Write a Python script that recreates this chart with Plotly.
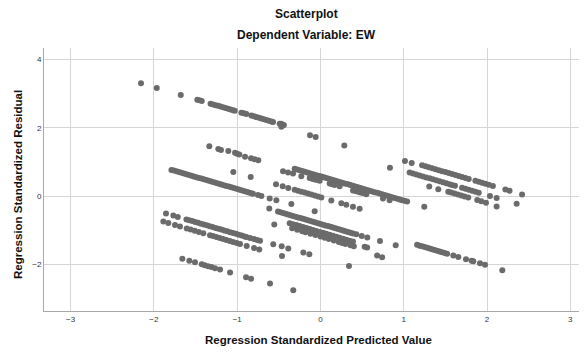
import plotly.graph_objects as go

# ---- data (ZPRED, ZRESID) grouped by visible bands ----
band_a_x = [-2.155, -1.966, -1.678, -1.479, -1.453, -1.426, -1.32, -1.29, -1.26, -1.23, -1.20, -1.17, -1.14, -1.11,
            -1.08, -1.05, -1.03, -0.95, -0.92, -0.89, -0.83, -0.80, -0.77, -0.74, -0.71, -0.68, -0.65, -0.62, -0.59,
            -0.57, -0.49, -0.47, -0.47, -0.44, -0.126, -0.058, 0.286, 1.014, 1.095, 1.22, 1.26, 1.30, 1.34, 1.38,
            1.42, 1.46, 1.50, 1.54, 1.58, 1.62, 1.66, 1.70, 1.74, 1.78, 1.86, 1.90, 1.94, 1.98, 2.02, 2.07, 2.22,
            2.27, 2.42]
band_a_y = [3.30, 3.16, 2.96, 2.82, 2.80, 2.78, 2.70, 2.68, 2.66, 2.64, 2.62, 2.60, 2.575, 2.554,
            2.533, 2.511, 2.497, 2.44, 2.42, 2.40, 2.355, 2.334, 2.313, 2.292, 2.270, 2.249, 2.228, 2.207, 2.185,
            2.171, 2.114, 2.12, 2.03, 2.079, 1.78, 1.73, 1.48, 1.03, 0.97, 0.902, 0.874, 0.845, 0.817, 0.789,
            0.760, 0.732, 0.704, 0.675, 0.647, 0.618, 0.590, 0.562, 0.533, 0.505, 0.448, 0.420, 0.391, 0.363, 0.335,
            0.299, 0.193, 0.158, 0.051]

band_b_x = [-1.335, -1.227, -1.195, -1.107, -1.026, -1.002, -0.975, -0.906, -0.834, -0.792, -0.747,
            -0.31, -0.28, -0.25, -0.22, -0.19, -0.16, -0.13, -0.10, -0.07, -0.04, -0.01, 0.02, 0.05, 0.08, 0.11,
            0.14, 0.17, 0.20, 0.23, 0.26, 0.29, 0.32, 0.35, 0.38, 0.41, 0.44, 0.47, 0.50, 0.53, 0.56, 0.59, 0.62,
            0.65, 0.68, 0.71, 0.74, 0.77, 0.80, 0.83, 0.86, 0.89, 0.92, 0.95, 0.98, 1.01, 1.04, 1.246]
band_b_y = [1.46, 1.38, 1.35, 1.32, 1.27, 1.24, 1.22, 1.15, 1.11, 1.08, 1.05,
            0.800, 0.779, 0.757, 0.736, 0.715, 0.693, 0.672, 0.651, 0.630, 0.608, 0.587, 0.566, 0.545, 0.523, 0.502,
            0.481, 0.459, 0.438, 0.417, 0.396, 0.374, 0.353, 0.332, 0.311, 0.289, 0.268, 0.247, 0.226, 0.204, 0.183,
            0.162, 0.140, 0.119, 0.098, 0.077, 0.055, 0.034, 0.013, -0.008, -0.030, -0.051, -0.072, -0.094, -0.115,
            -0.136, -0.157, -0.31]

band_b2_x = [-0.45, -0.39, -0.33, -0.23, -0.13, -0.10, -0.07, -0.04, -0.01, 0.11, 0.14, 0.17, 0.23, 0.39, 0.42,
             0.45, 0.48, 0.51, 0.55, 0.75, 0.83]
band_b2_y = [0.73, 0.69, 0.66, 0.58, 0.53, 0.51, 0.49, 0.47, 0.45, 0.37, 0.35, 0.33, 0.29, 0.17, 0.15,
             0.13, 0.11, 0.09, 0.06, -0.07, -0.12]

band_c_x = [-1.79, -1.76, -1.73, -1.70, -1.67, -1.64, -1.61, -1.58, -1.55, -1.52, -1.49, -1.46, -1.43, -1.40,
            -1.37, -1.34, -1.31, -1.28, -1.25, -1.22, -1.19, -1.16, -1.13, -1.10, -1.07, -1.04, -1.01, -0.98,
            -0.95, -0.92, -0.89, -0.86, -0.83, -0.81, -0.75, -0.71, -0.61, -0.53, -0.35, -0.07]
band_c_y = [0.769, 0.748, 0.727, 0.705, 0.684, 0.663, 0.641, 0.620, 0.599, 0.578, 0.556, 0.535, 0.514, 0.493,
            0.471, 0.450, 0.429, 0.408, 0.386, 0.365, 0.344, 0.322, 0.301, 0.280, 0.259, 0.237, 0.216, 0.195,
            0.174, 0.152, 0.131, 0.110, 0.088, 0.074, 0.032, 0.003, -0.07, -0.12, -0.23, -0.44]

band_l_x = [-1.047, -0.838, -0.534, -0.454, -0.387, -0.31, -0.27, -0.23, -0.19, -0.15, -0.11, -0.07, -0.03, 0.01,
            0.13, 0.25, 0.31, 0.39, 0.47]
band_l_y = [0.71, 0.56, 0.35, 0.29, 0.24, 0.190, 0.161, 0.133, 0.105, 0.076, 0.048, 0.020, -0.009, -0.037,
            -0.122, -0.207, -0.250, -0.306, -0.363]

band_d_x = [0.834, 1.07, 1.11, 1.15, 1.19, 1.23, 1.27, 1.31, 1.35, 1.39, 1.43, 1.47, 1.51, 1.55, 1.58, 1.615,
            1.70, 1.74, 1.78, 1.82, 1.86, 1.90, 2.035, 2.115, 2.355]
band_d_y = [0.83, 0.691, 0.663, 0.635, 0.606, 0.578, 0.550, 0.521, 0.493, 0.464, 0.436, 0.408, 0.379, 0.351,
            0.330, 0.305, 0.245, 0.216, 0.188, 0.160, 0.131, 0.103, 0.007, -0.050, -0.220]

band_e_x = [1.306, 1.414, 1.534, 1.57, 1.61, 1.65, 1.69, 1.73, 1.774, 1.882, 1.93, 1.987, 2.115]
band_e_y = [0.28, 0.20, 0.132, 0.107, 0.079, 0.050, 0.022, -0.007, -0.038, -0.114, -0.148, -0.189, -0.30]

band_f_x = [1.16, 1.19, 1.22, 1.25, 1.28, 1.31, 1.34, 1.37, 1.40, 1.43, 1.46, 1.49, 1.52, 1.595, 1.655, 1.747,
            1.815, 1.835, 1.915, 1.975, 2.183]
band_f_y = [-1.422, -1.444, -1.465, -1.486, -1.508, -1.529, -1.550, -1.571, -1.593, -1.614, -1.635, -1.656,
            -1.678, -1.731, -1.773, -1.839, -1.887, -1.901, -1.958, -2.000, -2.16]

band_j_x = [-0.615, -0.51, -0.48, -0.45, -0.42, -0.39, -0.36, -0.33, -0.30, -0.27, -0.24, -0.21, -0.18, -0.15,
            -0.12, -0.09, -0.06, -0.03, 0.00, 0.03, 0.06, 0.09, 0.12, 0.15, 0.18, 0.21, 0.24, 0.27, 0.30, 0.33,
            0.36, 0.39, 0.43, 0.495, 0.562, 0.714, 0.903]
band_j_y = [-0.36, -0.448, -0.470, -0.491, -0.512, -0.533, -0.555, -0.576, -0.597, -0.619, -0.640, -0.661, -0.682,
            -0.704, -0.725, -0.746, -0.767, -0.789, -0.810, -0.831, -0.853, -0.874, -0.895, -0.916, -0.938, -0.959,
            -0.980, -1.001, -1.023, -1.044, -1.065, -1.087, -1.115, -1.161, -1.208, -1.307, -1.433]

band_k_x = [-0.37, -0.33, -0.29, -0.25, -0.21, -0.17, -0.13, -0.09, -0.05, -0.01, 0.03, 0.07, 0.11, 0.15, 0.19,
            0.23, 0.27, 0.31, 0.35, 0.39, -0.34, -0.28, -0.22, -0.18, -0.12, -0.06, 0.00, 0.05, 0.10, 0.16, 0.22,
            0.26, 0.30, 0.36, 0.40, 0.53, 0.56, 0.68, 0.74, -0.555]
band_k_y = [-0.788, -0.816, -0.844, -0.873, -0.901, -0.929, -0.958, -0.986, -1.015, -1.043, -1.071, -1.100,
            -1.128, -1.156, -1.185, -1.213, -1.241, -1.270, -1.298, -1.327, -0.939, -0.981, -1.024, -1.052,
            -1.095, -1.137, -1.180, -1.215, -1.251, -1.293, -1.336, -1.364, -1.393, -1.435, -1.464, -1.48, -1.50,
            -1.73, -1.78, -0.83]

band_h_x = [-1.855, -1.767, -1.714, -1.61, -1.575, -1.54, -1.505, -1.47, -1.435, -1.40, -1.365, -1.33, -1.295,
            -1.26, -1.225, -1.19, -1.155, -1.12, -1.085, -1.05, -1.015, -0.98, -0.945, -0.91, -0.89, -0.846, -0.80,
            -0.76, -0.726, -0.567, -0.466, -0.387, -0.206, -0.134, 0.342]
band_h_y = [-0.505, -0.567, -0.605, -0.679, -0.703, -0.728, -0.753, -0.778, -0.803, -0.827, -0.852, -0.877,
            -0.902, -0.927, -0.951, -0.976, -1.001, -1.026, -1.051, -1.076, -1.100, -1.125, -1.150, -1.175,
            -1.189, -1.220, -1.253, -1.281, -1.305, -1.404, -1.462, -1.529, -1.646, -1.696, -2.038]

band_i_x = [-1.887, -1.827, -1.747, -1.687, -1.606, -1.56, -1.51, -1.46, -1.407, -1.327, -1.29, -1.25, -1.21,
            -1.17, -1.13, -1.09, -1.05, -1.006, -0.966, -0.886, -0.798, -0.735, -0.462]
band_i_y = [-0.742, -0.785, -0.841, -0.884, -0.941, -0.974, -1.009, -1.045, -1.082, -1.139, -1.165, -1.194,
            -1.222, -1.250, -1.279, -1.307, -1.336, -1.367, -1.395, -1.452, -1.514, -1.559, -1.746]

band_g_x = [-1.659, -1.575, -1.507, -1.426, -1.39, -1.35, -1.31, -1.267, -1.206, -1.086, -0.894, -0.834,
            -0.606, -0.327]
band_g_y = [-1.824, -1.883, -1.932, -1.989, -2.014, -2.043, -2.071, -2.102, -2.145, -2.230, -2.366, -2.409,
            -2.55, -2.75]

x_ticks = [-3, -2, -1, 0, 1, 2, 3]
y_ticks = [-2, 0, 2, 4]

all_x = (band_a_x + band_b_x + band_b2_x + band_c_x + band_l_x + band_d_x + band_e_x + band_f_x +
         band_j_x + band_k_x + band_h_x + band_i_x + band_g_x)
all_y = (band_a_y + band_b_y + band_b2_y + band_c_y + band_l_y + band_d_y + band_e_y + band_f_y +
         band_j_y + band_k_y + band_h_y + band_i_y + band_g_y)

FONT = "Liberation Sans, Arial, sans-serif"

# page body has an 8px default margin, so the figure is 8px smaller and shifted
W, H = 579, 345
ML, MR, MT, MB = 36, 0, 40, 42

fig = go.Figure()
fig.add_trace(go.Scatter(
    x=all_x, y=all_y, mode="markers",
    marker=dict(size=6, color="#6b6b6b", line=dict(width=0)),
    showlegend=False, hoverinfo="x+y",
))

fig.update_layout(
    width=W, height=H,
    margin=dict(l=ML, r=MR, t=MT, b=MB),
    paper_bgcolor="white", plot_bgcolor="white",
    font=dict(family=FONT, color="#222222"),
    xaxis=dict(range=[-3.32, 3.20], tickvals=x_ticks, showgrid=True, gridcolor="#d6d6d6", gridwidth=1,
               zeroline=False, showline=True, linecolor="#a8a8a8", linewidth=1, ticks="",
               tickfont=dict(size=8, color="#333333"), automargin=False),
    yaxis=dict(range=[-3.354, 4.33], tickvals=y_ticks, showgrid=True, gridcolor="#d6d6d6", gridwidth=1,
               zeroline=False, showline=True, linecolor="#a8a8a8", linewidth=1, ticks="",
               tickfont=dict(size=8, color="#333333"), automargin=False),
    annotations=[
        dict(text="<b>Scatterplot</b>", x=298, y=6, xref="paper", yref="paper", showarrow=False,
             xanchor="center", yanchor="middle", font=dict(size=12, color="#111111")),
        dict(text="<b>Dependent Variable: EW</b>", x=298, y=27, xref="paper", yref="paper", showarrow=False,
             xanchor="center", yanchor="middle", font=dict(size=12, color="#111111")),
        dict(text="<b>Regression Standardized Predicted Value</b>", x=310, y=332, xref="paper", yref="paper",
             showarrow=False, xanchor="center", yanchor="middle", font=dict(size=11.5, color="#111111")),
        dict(text="<b>Regression Standardized Residual</b>", x=10, y=177, xref="paper", yref="paper",
             showarrow=False, textangle=-90, xanchor="center", yanchor="middle",
             font=dict(size=11.5, color="#111111")),
    ],
)

# convert pixel-placed annotation anchors to paper coordinates
pw, ph = W - ML - MR, H - MT - MB
for ann in fig.layout.annotations:
    ann.x = (ann.x - ML) / pw
    ann.y = 1 - (ann.y - MT) / ph

fig.write_html("out.html")
